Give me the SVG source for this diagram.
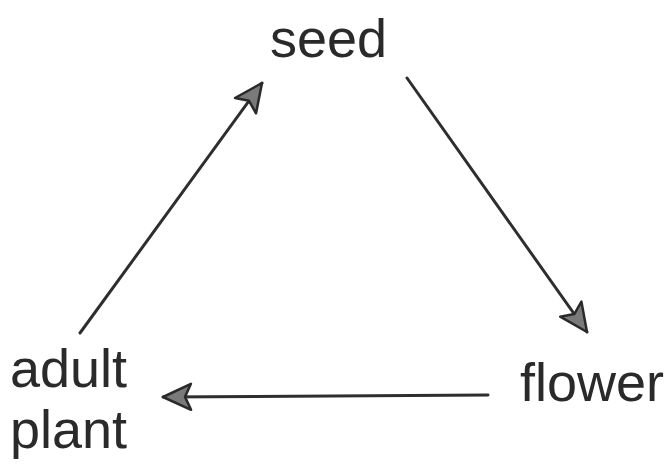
<svg xmlns="http://www.w3.org/2000/svg" width="669" height="464" viewBox="0 0 669 464">
<style>
.lbl{font-family:"Liberation Sans",Arial,sans-serif;font-size:54px;fill:#2a2a2a}
.cn{stroke:#2e2e2e;stroke-width:3;fill:none;stroke-linecap:round}
</style>
<defs>
<marker id="ah" markerUnits="userSpaceOnUse" markerWidth="34" markerHeight="30" refX="28" refY="13" orient="auto" viewBox="-3 -2 34 30">
<path d="M0,0 L28,13 L0,26 L6,13 Z" fill="#7a7a7a" stroke="#2a2a2a" stroke-width="2.5" stroke-linejoin="round"/>
</marker>
</defs>
<rect width="669" height="464" fill="#ffffff"/>
<g id="seed"><text class="lbl" x="270" y="57">seed</text></g>
<g id="flower"><text class="lbl" x="520" y="401">flower</text></g>
<g id="adult-plant"><text class="lbl" x="10" y="387">adult</text><text class="lbl" x="10" y="448">plant</text></g>
<g id="connectors">
<line class="cn" x1="80" y1="333" x2="262" y2="83" marker-end="url(#ah)"/>
<line class="cn" x1="407" y1="78" x2="587" y2="332" marker-end="url(#ah)"/>
<line class="cn" x1="488" y1="395" x2="163" y2="397" marker-end="url(#ah)"/>
</g>
</svg>
